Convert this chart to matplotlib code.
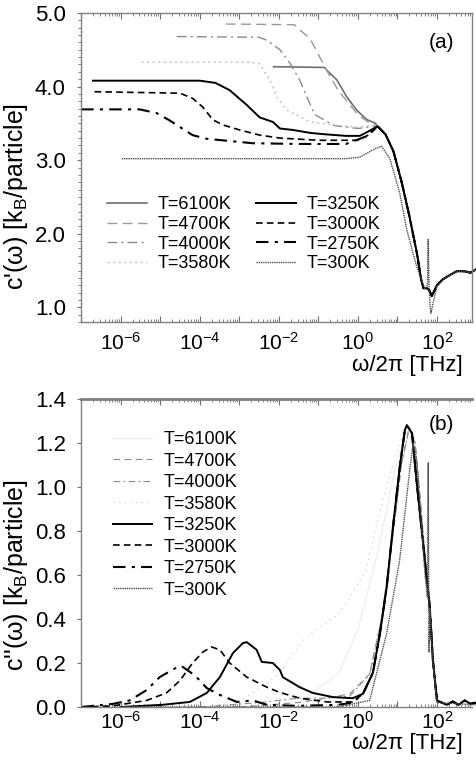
import numpy as np
import matplotlib
matplotlib.use('Agg')
import matplotlib.pyplot as plt
from matplotlib.ticker import FixedLocator, MultipleLocator, LogLocator, NullFormatter

plt.rcParams['font.family'] = ['Liberation Sans', 'DejaVu Sans']
plt.rcParams['mathtext.fontset'] = 'custom'
plt.rcParams['mathtext.rm'] = 'Liberation Sans'

labels = ['T=6100K', 'T=4700K', 'T=4000K', 'T=3580K',
          'T=3250K', 'T=3000K', 'T=2750K', 'T=300K']

# ---- panel (a): c'(w), frequency given as log10(f / THz)
# shared high frequency part of the curves
tail_lg = [0.5, 0.7, 0.9, 1.1, 1.3, 1.5, 1.6, 1.66, 1.74, 1.8, 1.87, 2.0, 2.15, 2.3, 2.5, 2.7, 2.85, 3.0]
tail_a = [3.46, 3.35, 3.12, 2.72, 2.25, 1.72, 1.38, 1.26, 1.26, 1.24, 1.15, 1.30, 1.38, 1.43, 1.49, 1.49, 1.47, 1.52]

a6100_lg = [-2.13, -0.84, -0.78, -0.53, -0.28, -0.03, 0.23, 0.45]
a6100 = [4.27, 4.26, 4.22, 4.09, 3.86, 3.68, 3.55, 3.50]
a4700_lg = [-3.34, -1.6, -1.47, -1.22, -1.01, -0.84, -0.5, 0.0, 0.3, 0.45]
a4700 = [4.85, 4.84, 4.77, 4.66, 4.45, 4.27, 3.95, 3.62, 3.50, 3.48]
a4000_lg = [-4.58, -2.5, -2.3, -1.97, -1.72, -1.47, -1.29, -1.09, -0.6, 0.0, 0.4]
a4000 = [4.68, 4.67, 4.63, 4.50, 4.32, 4.09, 3.86, 3.62, 3.47, 3.43, 3.46]
a3580_lg = [-5.47, -2.7, -2.48, -2.23, -2.05, -1.8, -1.2, -0.5, 0.0, 0.35]
a3580 = [4.33, 4.33, 4.31, 4.09, 3.86, 3.68, 3.52, 3.47, 3.45, 3.47]
a3250_lg = [-6.7, -4.0, -3.6, -3.24, -2.81, -2.48, -2.15, -1.97, -1.64, -1.2, -0.8, -0.3, 0.05, 0.3]
a3250 = [4.08, 4.08, 4.05, 3.95, 3.75, 3.58, 3.52, 3.43, 3.41, 3.37, 3.35, 3.33, 3.33, 3.40]
a3000_lg = [-6.66, -4.5, -4.18, -3.92, -3.67, -3.42, -2.99, -2.48, -1.97, -1.0, 0.0, 0.3]
a3000 = [3.93, 3.91, 3.84, 3.72, 3.55, 3.48, 3.41, 3.34, 3.30, 3.27, 3.27, 3.35]
a2750_lg = [-7.0, -5.52, -5.09, -4.76, -4.5, -4.18, -3.82, -3.24, -2.66, -1.5, -0.3, 0.2]
a2750 = [3.69, 3.69, 3.64, 3.54, 3.45, 3.34, 3.29, 3.26, 3.23, 3.22, 3.22, 3.32]
a300_lg = [-5.97, -0.3, 0.05, 0.38, 0.6, 0.81, 1.06, 1.24, 1.49, 1.7, 1.76, 1.78, 1.80, 1.83, 1.85, 1.9, 2.0]
a300 = [3.02, 3.02, 3.04, 3.14, 3.19, 3.02, 2.55, 2.05, 1.55, 1.25, 1.3, 1.92, 1.3, 1.0, 0.92, 1.05, 1.28]

# ---- panel (b): c''(w)
peak_lg = [0.13, 0.38, 0.56, 0.73, 0.89, 1.06, 1.19, 1.24, 1.37, 1.49, 1.65, 1.82, 1.9, 2.0, 2.25, 2.4, 2.55, 2.7, 2.85, 3.0]
peak_b = [0.06, 0.155, 0.335, 0.545, 0.82, 1.09, 1.26, 1.28, 1.245, 1.02, 0.745, 0.455, 0.21, 0.03, 0.01, 0.025, 0.01, 0.03, 0.015, 0.02]

b6100_lg = [-1.5, -0.5, 0.0, 0.5, 0.9, 1.2, 1.35, 1.5, 1.7, 1.9, 2.05]
b6100 = [0.02, 0.15, 0.35, 0.7, 1.05, 1.25, 1.27, 1.1, 0.7, 0.25, 0.02]
b4700_lg = [-3.0, -1.5, -0.8, -0.2, 0.3, 0.6, 0.9, 1.1, 1.3, 1.45, 1.6, 1.8, 1.95, 2.05]
b4700 = [0.0, 0.02, 0.04, 0.06, 0.15, 0.4, 0.8, 1.1, 1.27, 1.2, 0.9, 0.45, 0.1, 0.02]
b4000_lg = [-4.0, -2.5, -1.5, -0.8, -0.2, 0.3, 0.6, 0.9, 1.1, 1.3, 1.45, 1.6, 1.8, 1.95, 2.05]
b4000 = [0.0, 0.02, 0.04, 0.04, 0.05, 0.15, 0.4, 0.8, 1.1, 1.27, 1.2, 0.9, 0.45, 0.1, 0.02]
b3580_lg = [-3.0, -2.0, -1.4, -1.0, -0.5, -0.2, 0.2, 0.5, 0.8, 1.1, 1.25, 1.45, 1.65, 1.85, 2.0]
b3580 = [0.02, 0.15, 0.3, 0.36, 0.42, 0.5, 0.62, 0.85, 1.05, 1.22, 1.28, 1.12, 0.7, 0.3, 0.03]
b3250_lg = [-6.0, -4.94, -4.25, -3.82, -3.49, -3.16, -2.91, -2.81, -2.56, -2.43, -2.15, -1.97, -1.9, -1.47, -1.14, -0.63, -0.13]
b3250 = [0.0, 0.01, 0.023, 0.064, 0.136, 0.245, 0.29, 0.295, 0.26, 0.205, 0.2, 0.168, 0.136, 0.09, 0.064, 0.045, 0.04]
b3000_lg = [-7.0, -6.2, -5.34, -4.84, -4.5, -4.18, -3.92, -3.7, -3.49, -3.24, -2.81, -2.3, -1.97, -1.47, -0.78, -0.13]
b3000 = [0.0, 0.005, 0.03, 0.064, 0.12, 0.2, 0.25, 0.273, 0.26, 0.2, 0.136, 0.09, 0.066, 0.04, 0.023, 0.023]
b2750_lg = [-7.0, -6.2, -5.77, -5.34, -5.01, -4.58, -4.46, -4.25, -4.08, -3.82, -3.49, -3.06, -2.66, -2.3, -1.5, -0.5, -0.13]
b2750 = [0.0, 0.014, 0.03, 0.077, 0.136, 0.18, 0.186, 0.16, 0.136, 0.086, 0.055, 0.023, 0.03, 0.01, 0.005, 0.01, 0.02]
b300_lg = [-6.0, -0.5, 0.3, 0.73, 1.06, 1.32, 1.4, 1.49, 1.6, 1.7, 1.76, 1.78, 1.80, 1.82, 1.9, 2.0, 3.0]
b300 = [0.0, 0.0, 0.03, 0.335, 0.67, 1.09, 1.2, 1.12, 0.85, 0.6, 0.5, 1.11, 0.25, 0.45, 0.2, 0.02, 0.01]

# line styles: color, width, dashes
styles = [
    ('#707070', 1.2, None),
    ('#9a9a9a', 1.0, (7, 4)),
    ('#8a8a8a', 1.0, (7, 3, 1.5, 3)),
    ('#c0c0c0', 1.0, (1.5, 2.5)),
    ('black', 1.4, None),
    ('black', 1.2, (4, 2.5)),
    ('black', 1.5, (6, 3, 1.5, 3)),
    ('#505050', 1.0, (1, 0.6)),
]


def join(lg, v, tlg, tv):
    # glue a curve to the shared tail, starting where the curve ends
    lg = list(lg)
    v = list(v)
    for x, y in zip(tlg, tv):
        if x > lg[-1]:
            lg.append(x)
            v.append(y)
    return 10.0 ** np.array(lg), np.array(v)


def style_axes(ax, pad):
    ax.set_xscale('log')
    ax.set_xlim(1e-7, 10 ** 2.89)
    ax.xaxis.set_major_locator(FixedLocator([10.0 ** k for k in range(-7, 3)]))
    ax.set_xticklabels(['' if k % 2 else r'$\mathregular{10^{%d}}$' % k for k in range(-7, 3)])
    ax.xaxis.set_minor_locator(LogLocator(base=10, subs=np.arange(2, 10), numticks=20))
    ax.xaxis.set_minor_formatter(NullFormatter())
    for s in ax.spines.values():
        s.set_color('#808080')
        s.set_linewidth(1.0)
    ax.tick_params(axis='x', which='both', direction='in', top=True, bottom=True,
                   color='#707070', labelsize=15, pad=pad)
    ax.tick_params(axis='x', which='major', length=4)
    ax.tick_params(axis='x', which='minor', length=2)
    ax.tick_params(axis='y', which='both', direction='out', color='#707070', labelsize=16, pad=8)
    ax.tick_params(axis='y', which='major', length=3)
    ax.tick_params(axis='y', which='minor', length=2)


fig = plt.figure(figsize=(4.77, 7.64), dpi=100)

# ---------------- (a)
ax1 = fig.add_axes([0.170, 0.5785, 0.8197, 0.4045])
curves_a = [(a6100_lg, a6100), (a4700_lg, a4700), (a4000_lg, a4000), (a3580_lg, a3580),
            (a3250_lg, a3250), (a3000_lg, a3000), (a2750_lg, a2750), (a300_lg, a300)]
lines_a = []
for (lg, v), (c, lw, d), lab in zip(curves_a, styles, labels):
    x, y = join(lg, v, tail_lg, tail_a)
    ln, = ax1.plot(x, y, color=c, lw=lw, label=lab, clip_on=False)
    if d:
        ln.set_dashes(d)
    lines_a.append(ln)
style_axes(ax1, 7)
ax1.set_ylim(0.8, 5.0)
ax1.yaxis.set_major_locator(MultipleLocator(1.0))
ax1.yaxis.set_minor_locator(MultipleLocator(0.1))
ax1.yaxis.set_major_formatter('{x:.1f}')
ax1.set_ylabel("c'(ω) [k$_\\mathregular{B}$/particle]", fontsize=18)
ax1.yaxis.set_label_coords(-0.13, 0.405)
ax1.text(0.921, 0.906, '(a)', transform=ax1.transAxes, fontsize=15, ha='center', va='center')
ax1.text(0.975, -0.14, 'ω/2π [THz]', transform=ax1.transAxes, fontsize=16, ha='right', va='center')
ax1.legend(handles=lines_a, ncol=2, loc='upper left', bbox_to_anchor=(0.066, 0.407),
           frameon=False, fontsize=13, handlelength=2.2, handletextpad=0.6,
           columnspacing=1.4, labelspacing=0.15, borderpad=0, borderaxespad=0)

# ---------------- (b)
ax2 = fig.add_axes([0.170, 0.0746, 0.8197, 0.4031])
curves_b = [(b6100_lg, b6100), (b4700_lg, b4700), (b4000_lg, b4000), (b3580_lg, b3580),
            (b3250_lg, b3250), (b3000_lg, b3000), (b2750_lg, b2750), (b300_lg, b300)]
styles_b = [('#ececec', 0.8, None), ('#8a8a8a', 0.8, (6, 4)), ('#8a8a8a', 0.8, (6, 3, 1.5, 3)),
            ('#d0d0d0', 0.9, (1, 3.5))] + styles[4:]
lines_b = []
for i, ((lg, v), (c, lw, d), lab) in enumerate(zip(curves_b, styles_b, labels)):
    if i in (4, 5, 6):
        x, y = join(lg, v, peak_lg, peak_b)
    else:
        x, y = 10.0 ** np.array(lg), np.array(v)
    ln, = ax2.plot(x, y, color=c, lw=lw, label=lab, clip_on=False)
    if d:
        ln.set_dashes(d)
    lines_b.append(ln)
style_axes(ax2, 3)
ax2.spines['right'].set_visible(False)
ax2.spines['top'].set_linewidth(2.0)
ax2.set_ylim(0.0, 1.4)
ax2.yaxis.set_major_locator(MultipleLocator(0.2))
ax2.yaxis.set_major_formatter('{x:.1f}')
ax2.set_ylabel("c''(ω) [k$_\\mathregular{B}$/particle]", fontsize=18)
ax2.yaxis.set_label_coords(-0.13, 0.43)
ax2.text(0.921, 0.916, '(b)', transform=ax2.transAxes, fontsize=15, ha='center', va='center')
ax2.text(0.975, -0.12, 'ω/2π [THz]', transform=ax2.transAxes, fontsize=16, ha='right', va='center')
ax2.legend(handles=lines_b, ncol=1, loc='upper left', bbox_to_anchor=(0.081, 0.896),
           frameon=False, fontsize=13, handlelength=2.2, handletextpad=0.6,
           labelspacing=0.25, borderpad=0, borderaxespad=0)

fig.savefig('out.png', dpi=100)
